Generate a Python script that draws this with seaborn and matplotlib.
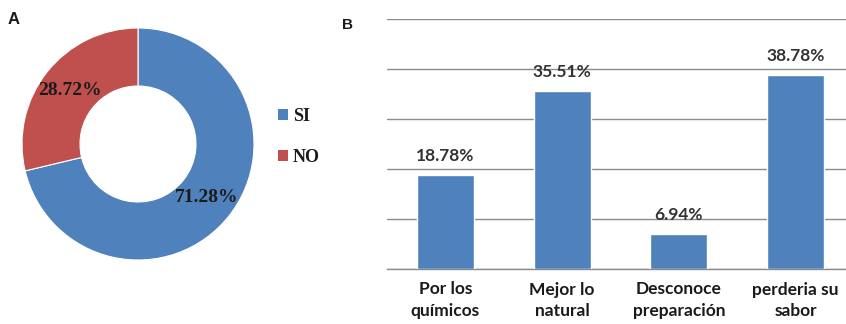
import matplotlib
matplotlib.use("Agg")
import matplotlib.pyplot as plt
from matplotlib.patches import Patch
import seaborn as sns
import pandas as pd

# Panel A: donut shares
pie_labels = ["SI", "NO"]
pie_values = [71.28, 28.72]
pie_colors = ["#4F81BD", "#C0504D"]

# Panel B: reasons
categories = ["Por los\nquímicos", "Mejor lo\nnatural", "Desconoce\npreparación", "perderia su\nsabor"]
percentages = [18.78, 35.51, 6.94, 38.78]
bar_color = "#4F81BD"

sns.set_theme(style="white")
plt.rcParams["font.family"] = ["Lato", "DejaVu Sans"]

fig = plt.figure(figsize=(8.46, 3.24), dpi=100)
W, H = 846, 324

# ---- Panel A: donut ----
axA = fig.add_axes([22 / W, (H - 260) / H, 232 / W, 232 / H])
wedges, _, autotexts = axA.pie(
    pie_values, colors=pie_colors, startangle=90, counterclock=False,
    autopct=lambda p: f"{p:.2f}%", pctdistance=0.75,
    wedgeprops=dict(width=0.5, edgecolor="white", linewidth=0.8),
    radius=1.0,
)
for t in autotexts:
    t.set_fontfamily("Liberation Serif")
    t.set_fontweight("bold")
    t.set_fontsize(14)
    t.set_color("#1a1a1a")
axA.set_xlim(-1, 1)
axA.set_ylim(-1, 1)
axA.set_aspect("equal")

handles = [Patch(facecolor=c, edgecolor="none") for c in pie_colors]
leg = fig.legend(
    handles, pie_labels, loc="center left",
    bbox_to_anchor=(262 / W, (H - 137) / H), frameon=False,
    prop=dict(family="Liberation Serif", weight="bold", size=13),
    handlelength=0.55, handleheight=0.55, handletextpad=0.25, labelspacing=1.35,
)
for txt in leg.get_texts():
    txt.set_color("#1a1a1a")

fig.text(8 / W, 1 - 19 / H, "A", fontsize=12, fontweight="bold",
         family="Liberation Sans", color="#1a1a1a", va="center")

# ---- Panel B: bars ----
axB = fig.add_axes([387 / W, (H - 269) / H, 467 / W, 250 / H])
df = pd.DataFrame({"categoria": categories, "porcentaje": percentages})
sns.barplot(data=df, x="categoria", y="porcentaje", color=bar_color,
            saturation=1, width=0.49, ax=axB, zorder=3)
axB.set_ylim(0, 50)
axB.set_xlim(-0.5, 3.5)
axB.set_yticks([0, 10, 20, 30, 40, 50])
axB.yaxis.grid(True, color="#8c8c8c", linewidth=1)
axB.set_axisbelow(True)
axB.tick_params(axis="y", left=False, labelleft=False)
for s in ["top", "right", "left"]:
    axB.spines[s].set_visible(False)
axB.spines["bottom"].set_color("#8c8c8c")
axB.spines["bottom"].set_linewidth(1)
axB.set_xlabel("")
axB.set_ylabel("")
axB.set_xticks(range(len(categories)))
axB.set_xticklabels(categories, fontsize=12.5, fontweight="bold",
                    color="#1a1a1a", linespacing=1.45)
axB.tick_params(axis="x", which="major", length=0, pad=9)
axB.set_xticks([-0.5, 0.5, 1.5, 2.5, 3.5], minor=True)
axB.tick_params(axis="x", which="minor", length=5, color="#8c8c8c", width=1)

for i, v in enumerate(percentages):
    axB.annotate(f"{v:.2f}%", (i, v), xytext=(0, 14), textcoords="offset points",
                 ha="center", va="center", fontsize=12.5, fontweight="bold",
                 color="#333333")

fig.text(342 / W, 1 - 25 / H, "B", fontsize=11, fontweight="bold",
         family="Liberation Sans", color="#1a1a1a", va="center")

fig.savefig("out.png", dpi=100)
